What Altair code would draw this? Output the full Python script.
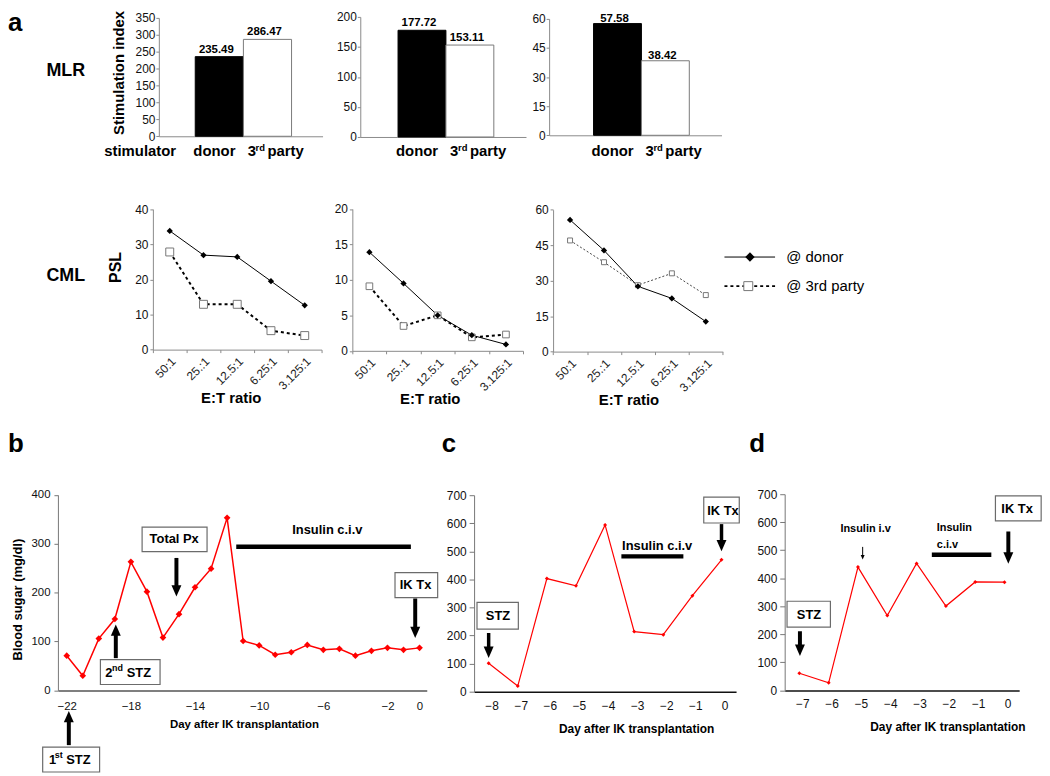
import altair as alt
import pandas as pd

W, H = 1042, 768
FONT = "Liberation Sans"
ONE = pd.DataFrame({"k": [0]})

# ---------------- data ----------------
# a) MLR stimulation index
mlr_stimulators = ["donor", "3rd party"]
mlr1 = [235.49, 286.47]
mlr2 = [177.72, 153.11]
mlr3 = [57.58, 38.42]

# a) CML percent specific lysis
cml_ratios = ["50:1", "25.:1", "12.5:1", "6.25:1", "3.125:1"]
cml1_donor = [33.8, 26.9, 26.4, 19.5, 12.6]
cml1_third = [27.8, 12.9, 12.9, 5.4, 4.0]
cml2_donor = [13.9, 9.5, 5.0, 2.2, 0.9]
cml2_third = [9.1, 3.5, 5.0, 1.9, 2.3]
cml3_donor = [55.7, 42.8, 27.6, 22.5, 12.7]
cml3_third = [47.0, 37.8, 28.1, 33.1, 23.9]

# b, c, d) blood sugar
b_days = list(range(-22, 1))
b_sugar = [71, 30, 106, 146, 263, 202, 108, 156, 211, 249, 353, 101, 92, 73,
           78, 93, 83, 85, 71, 81, 87, 83, 87]
c_days = list(range(-8, 1))
c_sugar = [101, 20, 403, 377, 594, 214, 203, 342, 470]
d_days = list(range(-7, 1))
d_sugar = [61, 27, 440, 267, 453, 301, 387, 386]

DOWN = "M-1,-2.3L1,-2.3L0,0Z"
UP = "M-1,2.3L1,2.3L0,0Z"


def free_text(t, x, y, size, weight="bold", align="left", baseline="alphabetic"):
    return alt.Chart(ONE).mark_text(
        text=t, fontSize=size, fontWeight=weight, align=align, baseline=baseline,
        color="black", font=FONT
    ).encode(x=alt.value(x), y=alt.value(y))


# ---------------- MLR panels ----------------
def mlr_panel(vals, x0, x1, y0, y1, ymax, step, pad_outer, align, num_dy=-4, ytitle=None):
    df = pd.DataFrame({"stim": mlr_stimulators, "si": vals,
                       "lab": [f"{v:.2f}" for v in vals]})
    xs = alt.Scale(type="band", domain=mlr_stimulators, range=[x0, x1], paddingInner=0,
                   paddingOuter=pad_outer, align=align)
    ys = alt.Scale(domain=[0, ymax], range=[y0, y1], nice=False, zero=True)
    yax = dict(orient="left", offset=-x0, values=list(range(0, ymax + 1, step)),
               domainColor="#8a8a8a", tickColor="#8a8a8a", tickSize=3,
               labelPadding=1, labelFontSize=12)
    if ytitle:
        yax.update(title=ytitle, titleFontSize=15, titleFontWeight="bold",
                   titleAngle=270, titleX=111 - x0, titleY=62,
                   titleAlign="center", titleBaseline="middle")
    else:
        yax["title"] = None
    xax = alt.Axis(orient="bottom", offset=y0 - H, labels=False, ticks=False,
                   title=None, domainColor="#8a8a8a")

    def X(ax):
        return alt.X("stim:N", scale=xs, axis=ax)

    base = alt.Chart(df)
    bars = base.mark_bar(strokeWidth=1).encode(
        x=X(xax),
        y=alt.Y("si:Q", scale=ys, axis=alt.Axis(**yax)),
        fill=alt.condition(alt.datum.stim == "donor", alt.value("black"), alt.value("white")),
        stroke=alt.condition(alt.datum.stim == "donor", alt.value("black"), alt.value("#7a7a7a")),
    )
    nums = base.mark_text(dx=-3, dy=num_dy, fontSize=11.5, fontWeight="bold",
                          baseline="alphabetic", color="black").encode(
        x=X(None), y=alt.Y("si:Q", scale=ys, axis=None), text="lab:N")
    ly = 146.5
    donor = base.transform_filter(alt.datum.stim == "donor").mark_text(
        text="donor", dx=-5, fontSize=15, fontWeight="bold", align="center",
        baseline="alphabetic", color="black").encode(x=X(None), y=alt.value(ly))
    third = base.transform_filter(alt.datum.stim == "3rd party")
    t3 = third.mark_text(text="3", dx=-20, fontSize=15, fontWeight="bold", align="left",
                         baseline="alphabetic", color="black").encode(x=X(None), y=alt.value(ly))
    trd = third.mark_text(text="rd", dx=-12, fontSize=9.5, fontWeight="bold", align="left",
                          baseline="alphabetic", color="black").encode(x=X(None), y=alt.value(ly - 5.5))
    tp = third.mark_text(text="party", dx=0, fontSize=15, fontWeight="bold", align="left",
                         baseline="alphabetic", color="black").encode(x=X(None), y=alt.value(ly))
    return [bars, nums, donor, t3, trd, tp]


# ---------------- CML panels ----------------
def cml_panel(donor, third, x0, x1, y0, y1, ymax, step, sq, dash, dash_w, dash_col,
              title_x, ytitle=None):
    df = pd.DataFrame({"ratio": cml_ratios, "donor": donor, "third": third})
    xs = alt.Scale(type="band", domain=cml_ratios, range=[x0, x1], paddingInner=0,
                   paddingOuter=0)
    ys = alt.Scale(domain=[0, ymax], range=[y0, y1], nice=False, zero=True)
    xax = alt.Axis(orient="bottom", offset=y0 - H, tickBand="extent", labelAngle=315,
                   labelAlign="right", labelBaseline="top", labelFontSize=12,
                   labelPadding=3, tickSize=3, domainColor="#8a8a8a", tickColor="#8a8a8a",
                   labelColor="#222222",
                   title="E:T ratio", titleFontSize=15, titleFontWeight="bold",
                   titleX=title_x, titleY=53, titleAlign="center",
                   titleBaseline="alphabetic")
    yax = dict(orient="left", offset=-x0, values=list(range(0, ymax + 1, step)),
               domainColor="#8a8a8a", tickColor="#8a8a8a", tickSize=3,
               labelPadding=2, labelFontSize=12)
    if ytitle:
        yax.update(title=ytitle, titleFontSize=16, titleFontWeight="bold",
                   titleAngle=270, titleX=108.7 - x0, titleY=258,
                   titleAlign="center", titleBaseline="middle")
    else:
        yax["title"] = None

    base = alt.Chart(df)
    xenc = alt.X("ratio:N", scale=xs, axis=xax)
    xnone = alt.X("ratio:N", scale=xs, axis=None)
    ld = base.mark_line(color="black", strokeWidth=1).encode(
        x=xenc, y=alt.Y("donor:Q", scale=ys, axis=alt.Axis(**yax)))
    lt = base.mark_line(color=dash_col, strokeWidth=dash_w, strokeDash=dash).encode(
        x=xnone, y=alt.Y("third:Q", scale=ys, axis=None))
    pt = base.mark_point(shape="square", filled=True, fill="white", stroke="#777777",
                         strokeWidth=1, size=sq, opacity=1).encode(
        x=xnone, y=alt.Y("third:Q", scale=ys, axis=None))
    pdn = base.mark_point(shape="diamond", filled=True, color="black", size=40,
                          opacity=1).encode(
        x=xnone, y=alt.Y("donor:Q", scale=ys, axis=None))
    return [ld, lt, pt, pdn]


# ---------------- blood sugar panels ----------------
def ann_text(t, x, y, xs, ys, size=13, align="center", baseline="middle"):
    return alt.Chart(pd.DataFrame({"tx": [x], "ty": [y]})).mark_text(
        text=t, fontSize=size, fontWeight="bold", align=align, baseline=baseline,
        color="black", font=FONT
    ).encode(x=alt.X("tx:Q", scale=xs, axis=None), y=alt.Y("ty:Q", scale=ys, axis=None))


def ann_box(x1, x2, y1, y2, xs, ys):
    return alt.Chart(pd.DataFrame({"bx": [x1], "bx2": [x2], "by": [y1], "by2": [y2]})).mark_rect(
        fill="white", stroke="#6b6b6b", strokeWidth=1.2
    ).encode(x=alt.X("bx:Q", scale=xs, axis=None), x2="bx2:Q",
             y=alt.Y("by:Q", scale=ys, axis=None), y2="by2:Q")


def ann_arrow(x, y_start, y_end, y_tip, xs, ys, width=4, head=100, shape=DOWN):
    df = pd.DataFrame({"ax": [x], "a0": [y_start], "a1": [y_end], "at": [y_tip]})
    shaft = alt.Chart(df).mark_rule(strokeWidth=width, color="black").encode(
        x=alt.X("ax:Q", scale=xs, axis=None), y=alt.Y("a0:Q", scale=ys, axis=None), y2="a1:Q")
    tip = alt.Chart(df).mark_point(shape=shape, filled=True, color="black", size=head,
                                   opacity=1, strokeWidth=0).encode(
        x=alt.X("ax:Q", scale=xs, axis=None), y=alt.Y("at:Q", scale=ys, axis=None))
    return [shaft, tip]


def ann_bar(x1, x2, y, xs, ys, width=4.5):
    return alt.Chart(pd.DataFrame({"rx": [x1], "rx2": [x2], "ry": [y]})).mark_rule(
        strokeWidth=width, color="black").encode(
        x=alt.X("rx:Q", scale=xs, axis=None), x2="rx2:Q",
        y=alt.Y("ry:Q", scale=ys, axis=None))


def sugar_line(days, sugar, xs, ys, xax, yax, lw, ps):
    df = pd.DataFrame({"day": days, "bs": sugar})
    base = alt.Chart(df)
    line = base.mark_line(color="#ff0000", strokeWidth=lw).encode(
        x=alt.X("day:Q", scale=xs, axis=xax), y=alt.Y("bs:Q", scale=ys, axis=yax))
    pts = base.mark_point(shape="diamond", filled=True, color="#ff0000", size=ps,
                          opacity=1).encode(
        x=alt.X("day:Q", scale=xs, axis=None), y=alt.Y("bs:Q", scale=ys, axis=None))
    return [line, pts]


# panel b
xs_b = alt.Scale(domain=[-22.55, 0.45], range=[50.3, 422], nice=False, zero=False)
ys_b = alt.Scale(domain=[0, 400], range=[684.7, 487.7], nice=False)
xax_b = alt.Axis(orient="bottom", offset=684.7 - H, values=[-22, -18, -14, -10, -6, -2, 0],
                 ticks=False, labelPadding=10, labelFontSize=11.5, domainColor="#555555",
                 domainWidth=1.5, title="Day after IK transplantation", titleFontSize=11.5,
                 titleFontWeight="bold", titleX=237.8, titleY=37.3, titleAlign="center",
                 titleBaseline="alphabetic")
yax_b = alt.Axis(orient="left", offset=-50.3, values=[0, 100, 200, 300, 400], tickSize=4,
                 labelPadding=4, labelFontSize=11.5, domainColor="#777777", tickColor="#777777",
                 title="Blood sugar (mg/dl)", titleFontSize=13, titleFontWeight="bold",
                 titleAngle=270, titleX=-41, titleY=592.8, titleAlign="center",
                 titleBaseline="middle")
panel_b = [
    *sugar_line(b_days, b_sugar, xs_b, ys_b, xax_b, yax_b, 1.5, 45),
    ann_bar(-11.43, -0.54, 294, xs_b, ys_b),
    ann_text("Insulin c.i.v", -5.75, 329, xs_b, ys_b),
    ann_box(-17.3, -13.25, 284, 334, xs_b, ys_b),
    ann_text("Total Px", -15.3, 309, xs_b, ys_b),
    *ann_arrow(-15.16, 271, 210, 192, xs_b, ys_b),
    ann_box(-1.53, 1.13, 190, 241, xs_b, ys_b),
    ann_text("IK Tx", -0.25, 215.5, xs_b, ys_b),
    *ann_arrow(-0.27, 188, 125, 107, xs_b, ys_b),
    ann_box(-19.9, -16.18, 12, 63, xs_b, ys_b),
    ann_text("2", -19.6, 27, xs_b, ys_b, align="left", baseline="alphabetic"),
    ann_text("nd", -19.18, 39.5, xs_b, ys_b, size=9, align="left", baseline="alphabetic"),
    ann_text("STZ", -18.26, 27, xs_b, ys_b, align="left", baseline="alphabetic"),
    *ann_arrow(-18.94, 66, 117, 135, xs_b, ys_b, shape=UP),
    ann_box(-23.5, -19.95, -167, -116, xs_b, ys_b),
    ann_text("1", -23.11, -151.5, xs_b, ys_b, align="left", baseline="alphabetic"),
    ann_text("st", -22.75, -139.3, xs_b, ys_b, size=9, align="left", baseline="alphabetic"),
    ann_text("STZ", -22.03, -151.5, xs_b, ys_b, align="left", baseline="alphabetic"),
    *ann_arrow(-21.87, -112, -60, -42, xs_b, ys_b, shape=UP),
]

# panel c
xs_c = alt.Scale(domain=[-8.5, 0.5], range=[469.7, 733.7], nice=False, zero=False)
ys_c = alt.Scale(domain=[0, 700], range=[686, 488], nice=False)
xax_c = alt.Axis(orient="bottom", offset=686 - H, values=c_days, ticks=False, labelOffset=3,
                 labelPadding=9, labelFontSize=12, domainColor="#111111", domainWidth=1.5,
                 title="Day after IK transplantation", titleFontSize=12, titleFontWeight="bold",
                 titleX=633, titleY=41, titleAlign="center", titleBaseline="alphabetic")
yax_c = alt.Axis(orient="left", offset=-469.7, values=list(range(0, 701, 100)), tickSize=5,
                 labelPadding=3, labelFontSize=12, domainColor="#777777", tickColor="#777777",
                 title=None)
panel_c = [
    *sugar_line(c_days, c_sugar, xs_c, ys_c, xax_c, yax_c, 1.2, 16),
    ann_box(-8.40, -6.98, 223, 318, xs_c, ys_c),
    ann_text("STZ", -7.68, 268, xs_c, ys_c),
    *ann_arrow(-8.0, 209, 152, 120, xs_c, ys_c, width=3.5),
    ann_text("Insulin c.i.v", -2.21, 520, xs_c, ys_c),
    ann_bar(-3.44, -1.31, 482, xs_c, ys_c),
    ann_box(-0.61, 0.61, 601, 693, xs_c, ys_c),
    ann_text("IK Tx", 0.05, 645, xs_c, ys_c),
    *ann_arrow(0.0, 597, 532, 500, xs_c, ys_c, width=3.5),
]

# panel d
xs_d = alt.Scale(domain=[-7.5, 0.5], range=[782.7, 1019], nice=False, zero=False)
ys_d = alt.Scale(domain=[0, 700], range=[684.7, 487], nice=False)
xax_d = alt.Axis(orient="bottom", offset=684.7 - H, values=d_days, ticks=False, labelOffset=3,
                 labelPadding=8, labelFontSize=12, domainColor="#111111", domainWidth=1.5,
                 title="Day after IK transplantation", titleFontSize=12, titleFontWeight="bold",
                 titleX=946.7, titleY=40, titleAlign="center", titleBaseline="alphabetic")
yax_d = alt.Axis(orient="left", offset=-782.7, values=list(range(0, 701, 100)), tickSize=5,
                 labelPadding=3, labelFontSize=12, domainColor="#777777", tickColor="#777777",
                 title=None)
panel_d = [
    *sugar_line(d_days, d_sugar, xs_d, ys_d, xax_d, yax_d, 1.2, 16),
    ann_box(-7.42, -5.94, 226, 318, xs_d, ys_d),
    ann_text("STZ", -6.67, 270, xs_d, ys_d),
    *ann_arrow(-6.98, 211, 155, 123, xs_d, ys_d),
    ann_text("Insulin i.v", -4.74, 576, xs_d, ys_d, size=11),
    *ann_arrow(-4.84, 512, 481, 467, xs_d, ys_d, width=1, head=16),
    ann_text("Insulin", -2.31, 580, xs_d, ys_d, size=11, align="left"),
    ann_text("c.i.v", -2.31, 520, xs_d, ys_d, size=11, align="left"),
    ann_bar(-2.48, -0.45, 484, xs_d, ys_d),
    ann_box(-0.31, 1.25, 605, 694, xs_d, ys_d),
    ann_text("IK Tx", 0.43, 648, xs_d, ys_d),
    *ann_arrow(0.13, 567, 484, 452, xs_d, ys_d),
]

# legend for CML
legend = [
    alt.Chart(ONE).mark_rule(color="black", strokeWidth=1).encode(
        x=alt.value(722), x2=alt.value(773), y=alt.value(248)),
    alt.Chart(ONE).mark_point(shape="diamond", filled=True, color="black", size=90,
                              opacity=1).encode(x=alt.value(747.7), y=alt.value(248)),
    free_text("@ donor", 784.3, 248, 15, weight="normal", baseline="middle"),
    alt.Chart(ONE).mark_rule(color="black", strokeWidth=2, strokeDash=[3, 3]).encode(
        x=alt.value(722), x2=alt.value(773), y=alt.value(277.3)),
    alt.Chart(ONE).mark_point(shape="square", filled=True, fill="white", stroke="#777777",
                              strokeWidth=1, size=81, opacity=1).encode(
        x=alt.value(746), y=alt.value(277.3)),
    free_text("@ 3rd party", 784.3, 277.3, 15, weight="normal", baseline="middle"),
]

layers = [
    *mlr_panel(mlr1, 152, 317, 126.3, 7, 350, 50, 0.7, 0.54, ytitle="Stimulation index"),
    *mlr_panel(mlr2, 355, 522, 127, 6, 200, 50, 0.73, 0.54),
    *mlr_panel(mlr3, 545.3, 719, 125.3, 8, 60, 15, 0.8, 0.58, num_dy=-2),
    *cml_panel(cml1_donor, cml1_third, 146, 316, 341.3, 199.7, 40, 10, 64, [3, 3], 2,
               "black", 224.5, ytitle="PSL"),
    *cml_panel(cml2_donor, cml2_third, 347, 519, 342.5, 199.5, 20, 5, 45, [3, 3], 2,
               "black", 425),
    *cml_panel(cml3_donor, cml3_third, 549.3, 720.3, 343.3, 200.3, 60, 15, 25, [2, 2], 1,
               "#444444", 625.3),
    *panel_b, *panel_c, *panel_d,
    *legend,
    free_text("a", 0, 20, 26),
    free_text("MLR", 38.7, 66, 18),
    free_text("CML", 38.7, 272, 18),
    free_text("stimulator", 97, 146.5, 15),
    free_text("b", 0, 444.7, 26),
    free_text("c", 437, 444.7, 26),
    free_text("d", 747, 444.7, 26),
]

chart = alt.layer(*layers).resolve_scale(
    x="independent", y="independent"
).resolve_axis(
    x="independent", y="independent"
).properties(
    width=W, height=H, padding=0, autosize=alt.AutoSizeParams(type="none")
).configure(
    font=FONT,
    axis=alt.AxisConfig(grid=False, labelFlush=False, labelColor="#111111",
                        titleColor="black", labelFont=FONT, titleFont=FONT),
).configure_view(stroke=None)

chart.save("out.html", embed_options={"renderer": "svg", "actions": False})
